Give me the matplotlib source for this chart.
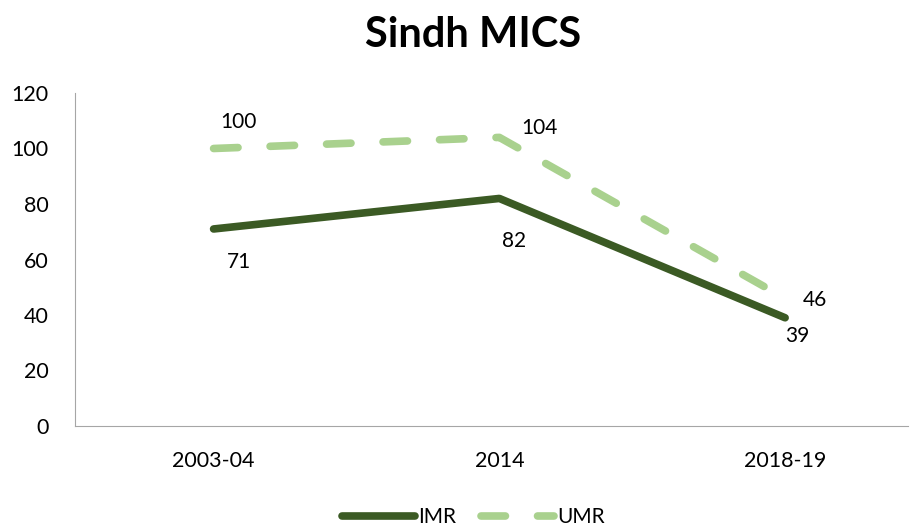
import matplotlib.pyplot as plt

plt.rcParams['font.family'] = ['Lato', 'DejaVu Sans']

years = ['2003-04', '2014', '2018-19']
imr = [71, 82, 39]
umr = [100, 104, 46]

fig = plt.figure(figsize=(9.1, 5.27), dpi=100)
ax = fig.add_axes([75/910, 1-426/527, (908-75)/910, (426-93)/527])

x = range(len(years))
ax.plot(x, imr, color='#3b5a24', lw=5.5, solid_capstyle='round', label='IMR')
ax.plot(x, umr, color='#a9d18e', lw=5.5, dashes=(3.2, 4.2), dash_capstyle='round', label='UMR')

# data labels
offs_imr = [(25, -33), (15, -43), (12, -18)]
offs_umr = [(25, 27), (40, 9), (30, -2)]
for i in x:
    ax.annotate(str(imr[i]), (i, imr[i]), xytext=offs_imr[i], textcoords='offset pixels',
                ha='center', va='center', fontsize=15)
    ax.annotate(str(umr[i]), (i, umr[i]), xytext=offs_umr[i], textcoords='offset pixels',
                ha='center', va='center', fontsize=15)

ax.set_xlim(-0.485, 2.43)
ax.set_ylim(0, 120)
ax.set_yticks(range(0, 121, 20))
ax.set_xticks(list(x))
ax.set_xticklabels(years)
ax.tick_params(length=0, labelsize=15.5, pad=18)
ax.tick_params(axis='y', pad=19)
for s in ['top', 'right']:
    ax.spines[s].set_visible(False)
for s in ['left', 'bottom']:
    ax.spines[s].set_color('#a6a6a6')

fig.text(0.52, 0.934, 'Sindh MICS', ha='center', va='center', fontsize=30, fontweight='bold')
fig.legend(loc='center', bbox_to_anchor=(0.52, 0.019), ncol=2, frameon=False, fontsize=15,
           handlelength=3.5, columnspacing=1.2, handletextpad=0.15)

fig.savefig('out.png', dpi=100)
